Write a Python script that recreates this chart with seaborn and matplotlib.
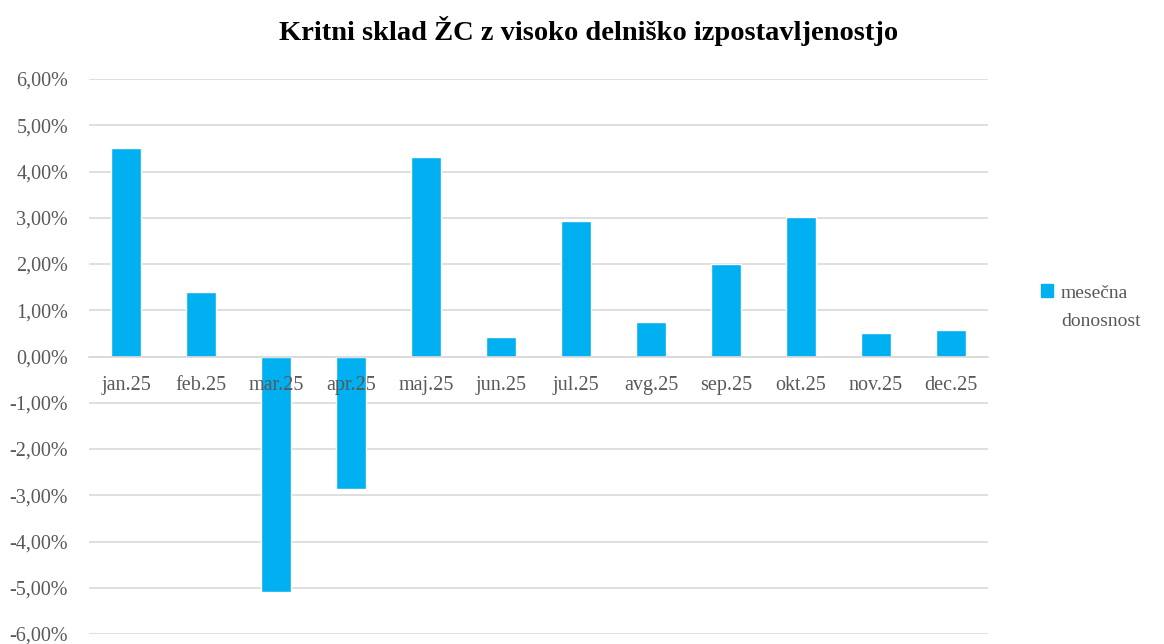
import numpy as np
import pandas as pd
import seaborn as sns
import matplotlib.pyplot as plt
from matplotlib.ticker import FuncFormatter, FixedLocator
from matplotlib.patches import Patch

# Podatki
meseci = ["jan.25", "feb.25", "mar.25", "apr.25", "maj.25", "jun.25",
          "jul.25", "avg.25", "sep.25", "okt.25", "nov.25", "dec.25"]
donosnost = [4.51, 1.39, -5.09, -2.87, 4.31, 0.42,
             2.94, 0.75, 2.00, 3.02, 0.50, 0.58]
serija = ["mesečna", "donosnost"]

df = pd.DataFrame({"mesec": meseci, "donosnost": donosnost})

sns.set_style("white")
plt.rcParams["font.family"] = ["Liberation Serif", "DejaVu Serif"]

W, H = 1164, 644
fig = plt.figure(figsize=(W / 100, H / 100), dpi=100)
ax = fig.add_axes([89 / W, 1 - 634 / H, (988 - 89) / W, (634 - 79) / H])

barva = "#00B0F0"
siva = "#595959"
sns.barplot(data=df, x="mesec", y="donosnost", color=barva, width=0.4,
            saturation=1, ax=ax)

ax.set_ylim(-6, 6)
ax.set_xlim(-0.5, len(meseci) - 0.5)
ax.set_yticks(np.arange(-6, 7, 1))
ax.yaxis.set_major_formatter(FuncFormatter(lambda v, p: f"{v:.2f}%".replace(".", ",")))
ax.grid(axis="y", color="#d9d9d9", linewidth=1.2)
ax.set_axisbelow(True)
ax.xaxis.set_zorder(3)  # oznake mesecev nad stolpci

for s in ["top", "right", "left"]:
    ax.spines[s].set_visible(False)
ax.spines["bottom"].set_position(("data", 0))
ax.spines["bottom"].set_color("#d9d9d9")
ax.spines["bottom"].set_linewidth(1.2)

ax.xaxis.set_minor_locator(FixedLocator(np.arange(-0.5, len(meseci), 1)))
ax.tick_params(axis="x", which="major", length=0, pad=14, labelsize=14.5, labelcolor=siva)
ax.tick_params(axis="x", which="minor", length=6, color="#d9d9d9", width=1.2, direction="out")
ax.tick_params(axis="y", length=0, pad=15, labelsize=14.5, labelcolor=siva)
ax.set_xlabel("")
ax.set_ylabel("")

fig.suptitle("Kritni sklad ŽC z visoko delniško izpostavljenostjo",
             fontsize=20.5, fontweight="bold", color="black", x=0.506, y=0.975)

ax.legend(handles=[Patch(color=barva, label=serija[0])],
          loc="center left", bbox_to_anchor=(1041 / W, 1 - 293 / H),
          bbox_transform=fig.transFigure, frameon=False, borderpad=0,
          borderaxespad=0, fontsize=14, handlelength=0.6, handleheight=0.6,
          handletextpad=0.4, labelcolor=siva)
fig.text(1061 / W, 1 - 322 / H, serija[1], fontsize=14, color=siva,
         ha="left", va="center")

fig.savefig("out.png", dpi=100)
